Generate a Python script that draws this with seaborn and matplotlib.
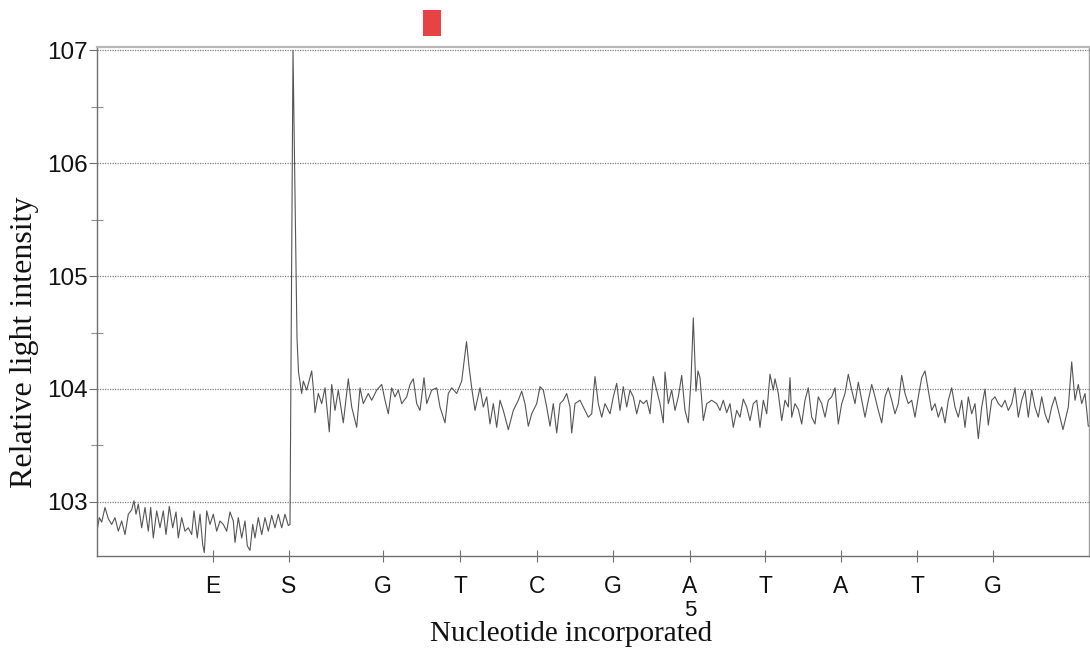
import numpy as np
import pandas as pd
import seaborn as sns
import matplotlib.pyplot as plt
from matplotlib.ticker import MultipleLocator
from matplotlib.patches import Rectangle
from matplotlib.transforms import blended_transform_factory

# Pyrogram trace: run time (arbitrary units) and relative light intensity
time_pts = [
    0, 2.3, 4.7, 8, 11.3, 14.7, 18, 21.3, 24.7, 28, 31.3, 34.7, 37, 39, 41.3, 44.7,
    48, 51.3, 53.7, 56.3, 59.7, 63, 66.3, 69, 72.3, 75.7, 79, 81.3, 84.7, 88, 91.3,
    94.7, 97, 100.3, 103, 105.7, 107.3, 109.7, 113, 116.3, 119.7, 123, 126.3, 129.7,
    133, 136.3, 138, 141.3, 144.7, 148, 150.3, 153, 155.7, 158, 161.3, 164.7, 168,
    171.3, 174.7, 178, 181.3, 184.7, 188, 191.3,
    193, 196, 200, 201.5,
    204.7, 206.3, 209.7, 214.7, 216.3, 218, 221.3, 224.7, 228, 232.3, 234.7, 238,
    241.3, 246.3, 249.7, 251.3, 254.7, 259.7, 263, 266.3, 271.3, 274.7, 279.7, 284.7,
    288, 291.3, 294.7, 298, 301.3, 304.7, 309.7, 313, 316.3, 319.7, 323, 327, 329.7,
    334.7, 339.7, 343, 348, 351.3, 354.7, 359.7, 364.7, 366.5, 369.5, 372, 374.7,
    378, 383, 386.3, 389.7, 393, 396.3, 399.7,
    403, 406.3, 411.3, 416.3, 421.3, 424.7, 428, 431.3, 434.7, 439.7, 443, 446.3,
    449.7, 453, 456.3, 459.7, 463, 466.3, 469.7, 473, 474.7, 478, 483, 488, 491.3,
    494.7, 498, 501.3, 504.7, 508, 513, 516.3, 519.7, 523, 526.3, 529.7, 533, 536.3,
    539.7, 543, 546.3, 549.7, 553, 556.3, 559.7, 563, 566.3, 568, 571.3, 574.7, 578,
    581.3, 584.7, 588, 591.3, 594, 596.3, 599, 601, 603, 606.3, 609.7, 614.7, 619.7,
    623, 626.3, 629.7, 633, 636.3, 639.7, 643, 646.3, 649.7, 653, 656.3, 659.7, 663,
    666.3, 669.7, 673, 676.3, 678, 681.3, 684.7, 688, 691.3, 693, 694.7, 698, 701.3,
    704.7, 708, 711.3, 714.7, 718, 721.3, 724.7, 728, 731.3, 734.7, 738, 741.3,
    744.7, 748, 751.3, 754.7, 758, 761.3, 764.7, 768, 771.3, 774.7, 778, 781.3,
    784.7, 788, 791.3, 794.7, 798, 801.3, 804.7, 808, 811.3, 814.7, 818, 821.3,
    824.7, 828, 831.3, 834.7, 838, 841.3, 844.7, 848, 851.3, 854.7, 858, 861.3,
    864.7, 868, 871.3, 874.7, 878, 881.3, 884.7, 888, 891.3, 894.7, 898, 901.3,
    904.7, 908, 911.3, 914.7, 918, 921.3, 924.7, 928, 931.3, 934.7, 938, 941.3,
    944.7, 948, 951.3, 954.7, 958, 961.3, 966, 971.3, 974.7, 978, 981.3, 984.7,
    988, 991.3, 992,
]
light = [
    102.74, 102.86, 102.82, 102.95, 102.85, 102.80, 102.86, 102.74, 102.83, 102.71,
    102.89, 102.93, 103.01, 102.89, 102.98, 102.77, 102.95, 102.74, 102.95, 102.68,
    102.92, 102.77, 102.92, 102.71, 102.96, 102.77, 102.91, 102.68, 102.86, 102.74,
    102.77, 102.71, 102.92, 102.68, 102.89, 102.62, 102.55, 102.92, 102.80, 102.89,
    102.74, 102.83, 102.80, 102.74, 102.91, 102.83, 102.64, 102.86, 102.68, 102.83,
    102.61, 102.57, 102.80, 102.68, 102.86, 102.71, 102.86, 102.74, 102.88, 102.77,
    102.89, 102.77, 102.89, 102.79,
    102.80, 107.00, 104.45, 104.15,
    103.96, 104.07, 103.99, 104.16, 104.01, 103.79, 103.96, 103.87, 104.01, 103.62,
    104.04, 103.81, 103.99, 103.70, 103.96, 104.09, 103.84, 103.66, 104.01, 103.87,
    103.96, 103.90, 103.99, 104.04, 103.90, 103.78, 104.01, 103.93, 103.99, 103.87,
    103.93, 104.04, 104.09, 103.87, 103.81, 104.10, 103.87, 103.99, 104.01, 103.84,
    103.70, 103.96, 104.01, 103.96, 104.07, 104.20, 104.42, 104.20, 104.01,
    103.81, 104.01, 103.84, 103.93, 103.69, 103.87, 103.66,
    103.90, 103.81, 103.64, 103.81, 103.90, 103.98, 103.87, 103.67, 103.78, 103.87,
    104.02, 103.99, 103.84, 103.67, 103.87, 103.61, 103.87, 103.90, 103.96, 103.84,
    103.61, 103.87, 103.90, 103.81, 103.75, 103.78, 104.11, 103.87, 103.75, 103.87,
    103.78, 103.93, 104.05, 103.81, 104.02, 103.84, 103.99, 103.93, 103.78, 103.90,
    103.87, 103.90, 103.78, 104.11, 103.99, 103.87, 103.70, 104.15, 103.87, 103.99,
    103.81, 103.93, 104.12, 103.81, 103.70, 104.08, 104.63, 103.98, 104.16, 104.10,
    103.72, 103.87, 103.90, 103.87,
    103.81, 103.90, 103.79, 103.87, 103.66, 103.81, 103.75, 103.91, 103.84, 103.72,
    103.87, 103.90, 103.66, 103.90, 103.78, 104.13, 103.99, 104.09, 103.96, 103.72,
    103.90, 103.84, 104.10, 103.75, 103.87, 103.82, 103.69, 103.90, 104.01, 103.75,
    103.69, 103.93, 103.87, 103.75, 103.90, 103.93, 104.01, 103.69, 103.87, 103.96,
    104.13, 103.99, 103.87, 104.06, 103.90, 103.75, 103.90, 104.04, 103.93, 103.81,
    103.70, 103.93, 104.01, 103.90, 103.78, 103.87, 104.12, 103.96, 103.87, 103.90,
    103.75, 103.93,
    104.10, 104.16, 103.99, 103.81, 103.87, 103.75, 103.84, 103.70, 103.90, 104.01,
    103.84, 103.75, 103.90, 103.66, 103.93, 103.78, 103.87, 103.56, 103.84, 104.00,
    103.68, 103.90, 103.93, 103.87, 103.84, 103.90, 103.81, 103.87, 104.01, 103.75,
    103.90, 103.99, 103.75, 103.99, 103.84, 103.75, 103.93, 103.78, 103.70, 103.84,
    103.93, 103.81, 103.64, 103.84, 104.24, 103.90, 104.04, 103.87, 103.96, 103.67,
    103.67,
]

# Dispensation order and the time each nucleotide was dispensed
dispensations = ["E", "S", "G", "T", "C", "G", "A", "T", "A", "T", "G"]
dispense_time = [116, 192, 286, 363, 440, 516, 593, 668, 744, 820, 896]
position_marks = {6: "5"}  # sequence position written under a dispensation

y_ticks = [103, 104, 105, 106, 107]

df = pd.DataFrame({"time": time_pts, "light": light})

sns.set_theme(style="white")
plt.rcParams["font.family"] = ["Liberation Sans", "DejaVu Sans"]

W, H = 1090, 648
fig = plt.figure(figsize=(W / 100, H / 100), dpi=100)
ax = fig.add_axes([97 / W, 1 - 556 / H, (1089 - 97) / W, (556 - 47) / H])

sns.lineplot(data=df, x="time", y="light", ax=ax, color="#555555",
             linewidth=0.8, estimator=None)

ax.set_xlim(0, 992)
ax.set_ylim(102.52, 107.03)

# horizontal dotted reference lines
for yv in y_ticks:
    ax.axhline(yv, color="#808080", linewidth=0.9, linestyle=(0, (1, 1)), zorder=0)

ax.set_yticks(y_ticks)
ax.set_yticklabels([str(v) for v in y_ticks], fontsize=17.5, color="#111111")
ax.yaxis.set_minor_locator(MultipleLocator(0.5))
ax.tick_params(axis="y", which="major", direction="out", length=6, width=0.8,
               color="#707070", pad=1, left=True)
ax.tick_params(axis="y", which="minor", direction="inout", length=8, width=0.8,
               color="#909090", left=True)

ax.set_xticks(dispense_time)
ax.set_xticklabels(dispensations, fontsize=16.5, color="#111111")
ax.tick_params(axis="x", which="major", direction="inout", length=9, width=0.8,
               color="#707070", pad=9, bottom=True)

trans = blended_transform_factory(ax.transData, fig.transFigure)
for idx, lab in position_marks.items():
    ax.text(dispense_time[idx], 1 - 616 / H, lab, transform=trans, ha="center",
            va="baseline", fontsize=16, color="#111111")

ax.set_xlabel("")
ax.set_ylabel("")
fig.text(571 / W, 1 - 641 / H, "Nucleotide incorporated",
         family="Liberation Serif", fontsize=21, ha="center", va="baseline",
         color="#111111")
fig.text(25 / W, 1 - 342 / H, "Relative light intensity",
         family="Liberation Serif", fontsize=23, ha="center", va="center",
         rotation=90, color="#111111")

for side in ["left", "bottom"]:
    ax.spines[side].set_color("#707070")
    ax.spines[side].set_linewidth(1.0)
ax.spines["top"].set_color("#b8b8b8")
ax.spines["top"].set_linewidth(1.6)
ax.spines["right"].set_color("#a0a0a0")
ax.spines["right"].set_linewidth(1.0)

# red marker above the plotting area
fig.add_artist(Rectangle((423 / W, 1 - 36 / H), 18 / W, 26 / H,
                         transform=fig.transFigure, facecolor="#e84343",
                         edgecolor="none"))

fig.savefig("out.png", dpi=100)
